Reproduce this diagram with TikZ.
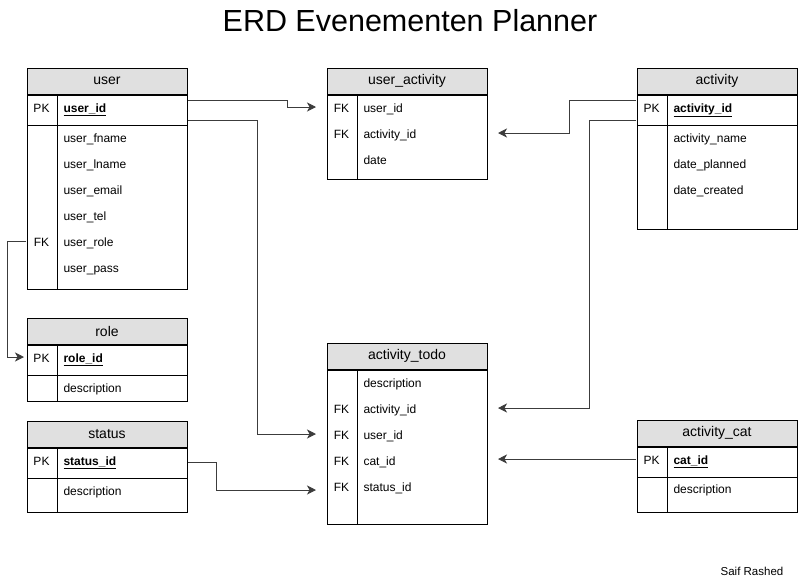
\documentclass[tikz,border=0pt]{standalone}
\usepackage{fontspec}
\setmainfont{Liberation Sans}
\usepackage{tikz}
\usetikzlibrary{positioning,arrows.meta}
\definecolor{hdrgray}{RGB}{224,224,224}
\definecolor{linegray}{RGB}{60,60,60}

\begin{document}
\begin{tikzpicture}[x=1pt, y=-1pt, line width=1pt,
        hdr/.style={draw, fill=hdrgray, minimum width=160pt, minimum height=26pt, inner sep=0pt, font=\fontsize{14}{16}\selectfont},
        tbody/.style={draw, minimum width=160pt, inner sep=0pt},
        kcol/.style={draw, minimum width=30pt, inner sep=0pt, anchor=north west},
        pkrow/.style={draw, minimum width=160pt, minimum height=30pt, inner sep=0pt, anchor=north},
        fld/.style={anchor=west, text width=118pt, inner xsep=6pt, inner ysep=0pt, text height=11pt, text depth=1pt, align=left, font=\fontsize{12}{14}\selectfont},
        key/.style={minimum width=30pt, inner sep=0pt, text height=11pt, text depth=1pt, font=\fontsize{12}{14}\selectfont},
        rel/.style={draw=linegray, -{Stealth[length=9pt,width=9pt,inset=2.5pt]}, shorten >=10pt}]
    \useasboundingbox (0,0) rectangle (798,581);

    \node [font=\fontsize{30.5}{36}\selectfont] (title) at (410,21) {ERD Evenementen Planner};

    \node [hdr] (user) at (107,81) {user};
    \node [tbody, minimum height=194pt, below=0pt of user] (user-body) {};
    \node [kcol, minimum height=194pt] (user-kc) at (user-body.north west) {};
    \node [pkrow] (user-pk) at (user-body.north) {};
    \node [fld] (user-id) at (57,107) {\underline{\textbf{user\_id}}};
    \node [key, left=0pt of user-id] (user-id-k) {PK};
    \node [fld] (user-fname) at (57,137) {user\_fname};
    \node [fld] (user-lname) at (57,163) {user\_lname};
    \node [fld] (user-email) at (57,189) {user\_email};
    \node [fld] (user-tel) at (57,215) {user\_tel};
    \node [fld] (user-role) at (57,241) {user\_role};
    \node [key, left=0pt of user-role] (user-role-k) {FK};
    \node [fld] (user-pass) at (57,267) {user\_pass};

    \node [hdr] (ua) at (407,81) {user\_activity};
    \node [tbody, minimum height=84pt, below=0pt of ua] (ua-body) {};
    \node [kcol, minimum height=84pt] (ua-kc) at (ua-body.north west) {};
    \node [fld] (ua-uid) at (357,107) {user\_id};
    \node [key, left=0pt of ua-uid] (ua-uid-k) {FK};
    \node [fld] (ua-aid) at (357,133) {activity\_id};
    \node [key, left=0pt of ua-aid] (ua-aid-k) {FK};
    \node [fld] (ua-date) at (357,159) {date};

    \node [hdr] (act) at (717,81) {activity};
    \node [tbody, minimum height=134pt, below=0pt of act] (act-body) {};
    \node [kcol, minimum height=134pt] (act-kc) at (act-body.north west) {};
    \node [pkrow] (act-pk) at (act-body.north) {};
    \node [fld] (act-id) at (667,107) {\underline{\textbf{activity\_id}}};
    \node [key, left=0pt of act-id] (act-id-k) {PK};
    \node [fld] (act-name) at (667,137) {activity\_name};
    \node [fld] (act-planned) at (667,163) {date\_planned};
    \node [fld] (act-created) at (667,189) {date\_created};

    \node [hdr] (role) at (107,331) {role};
    \node [tbody, minimum height=56pt, below=0pt of role] (role-body) {};
    \node [kcol, minimum height=56pt] (role-kc) at (role-body.north west) {};
    \node [pkrow] (role-pk) at (role-body.north) {};
    \node [fld] (role-id) at (57,357) {\underline{\textbf{role\_id}}};
    \node [key, left=0pt of role-id] (role-id-k) {PK};
    \node [fld] (role-desc) at (57,387) {description};

    \node [hdr] (status) at (107,434) {status};
    \node [tbody, minimum height=64pt, below=0pt of status] (st-body) {};
    \node [kcol, minimum height=64pt] (st-kc) at (st-body.north west) {};
    \node [pkrow] (st-pk) at (st-body.north) {};
    \node [fld] (st-id) at (57,460) {\underline{\textbf{status\_id}}};
    \node [key, left=0pt of st-id] (st-id-k) {PK};
    \node [fld] (st-desc) at (57,490) {description};

    \node [hdr] (todo) at (407,356) {activity\_todo};
    \node [tbody, minimum height=154pt, below=0pt of todo] (td-body) {};
    \node [kcol, minimum height=154pt] (td-kc) at (td-body.north west) {};
    \node [fld] (td-desc) at (357,382) {description};
    \node [fld] (td-aid) at (357,408) {activity\_id};
    \node [key, left=0pt of td-aid] (td-aid-k) {FK};
    \node [fld] (td-uid) at (357,434) {user\_id};
    \node [key, left=0pt of td-uid] (td-uid-k) {FK};
    \node [fld] (td-cid) at (357,460) {cat\_id};
    \node [key, left=0pt of td-cid] (td-cid-k) {FK};
    \node [fld] (td-sid) at (357,486) {status\_id};
    \node [key, left=0pt of td-sid] (td-sid-k) {FK};

    \node [hdr] (cat) at (717,433) {activity\_cat};
    \node [tbody, minimum height=65pt, below=0pt of cat] (cat-body) {};
    \node [kcol, minimum height=65pt] (cat-kc) at (cat-body.north west) {};
    \node [pkrow] (cat-pk) at (cat-body.north) {};
    \node [fld] (cat-id) at (667,459) {\underline{\textbf{cat\_id}}};
    \node [key, left=0pt of cat-id] (cat-id-k) {PK};
    \node [fld] (cat-desc) at (667,488) {description};

    \node [font=\fontsize{11.5}{14}\selectfont] (author) at (752,571) {Saif Rashed};

    \draw [rel] ([yshift=7pt]user-id.east) -| ([xshift=-39pt]ua-uid-k.west) -- (ua-uid-k.west);
    \draw [rel] ([yshift=-13pt]user-id.east) -| ([xshift=-69pt]td-uid-k.west) -- (td-uid-k.west);
    \draw [rel, shorten >=2pt] (user-role-k.west) -| ([xshift=-19pt]role-id-k.west) -- (role-id-k.west);
    \draw [rel] ([yshift=-2pt]st-id.east) -| ([xshift=-110pt,yshift=-4pt]td-sid-k.west) -- ([yshift=-4pt]td-sid-k.west);
    \draw [rel] ([yshift=7pt]act-id-k.west) -| ([xshift=81pt]ua-aid.east) -- (ua-aid.east);
    \draw [rel] ([yshift=-13pt]act-id-k.west) -| ([xshift=101pt]td-aid.east) -- (td-aid.east);
    \draw [rel] (cat-id-k.west) -- (td-cid.east |- cat-id-k.west);
\end{tikzpicture}
\end{document}
